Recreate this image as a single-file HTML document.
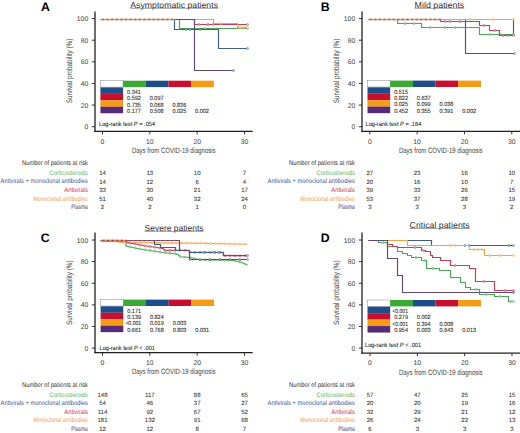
<!DOCTYPE html>
<html><head><meta charset="utf-8"><style>
html,body{margin:0;padding:0;background:#fff;}
svg{display:block;font-family:"Liberation Sans", sans-serif;text-rendering:geometricPrecision;}
</style></head><body>
<svg width="520" height="433" viewBox="0 0 520 433">
<rect width="520" height="433" fill="#fff"/>
<text x="41.10" y="11.10" font-size="12.3" font-weight="bold" fill="#000">A</text>
<text x="130.30" y="7.60" font-size="8.6" textLength="87.7" lengthAdjust="spacingAndGlyphs" fill="#333">Asymptomatic patients</text>
<line x1="130.30" y1="8.30" x2="218.00" y2="8.30" stroke="#444" stroke-width="0.5"/>
<text transform="translate(71.70,71.00) rotate(-90)" x="0" y="0" font-size="8.0" text-anchor="middle" textLength="64.5" lengthAdjust="spacingAndGlyphs" fill="#444">Survival probability (%)</text>
<line x1="91.80" y1="18.60" x2="95.00" y2="18.60" stroke="#231f20" stroke-width="0.9"/>
<text x="88.20" y="21.10" font-size="6.8" text-anchor="end" fill="#444">100</text>
<line x1="91.80" y1="40.22" x2="95.00" y2="40.22" stroke="#231f20" stroke-width="0.9"/>
<text x="88.20" y="42.72" font-size="6.8" text-anchor="end" fill="#444">80</text>
<line x1="91.80" y1="61.84" x2="95.00" y2="61.84" stroke="#231f20" stroke-width="0.9"/>
<text x="88.20" y="64.34" font-size="6.8" text-anchor="end" fill="#444">60</text>
<line x1="91.80" y1="83.46" x2="95.00" y2="83.46" stroke="#231f20" stroke-width="0.9"/>
<text x="88.20" y="85.96" font-size="6.8" text-anchor="end" fill="#444">40</text>
<line x1="91.80" y1="105.08" x2="95.00" y2="105.08" stroke="#231f20" stroke-width="0.9"/>
<text x="88.20" y="107.58" font-size="6.8" text-anchor="end" fill="#444">20</text>
<line x1="91.80" y1="126.70" x2="95.00" y2="126.70" stroke="#231f20" stroke-width="0.9"/>
<text x="88.20" y="129.20" font-size="6.8" text-anchor="end" fill="#444">0</text>
<line x1="102.50" y1="131.30" x2="102.50" y2="134.40" stroke="#231f20" stroke-width="0.9"/>
<text x="102.50" y="143.60" font-size="6.8" text-anchor="middle" fill="#444">0</text>
<line x1="149.83" y1="131.30" x2="149.83" y2="134.40" stroke="#231f20" stroke-width="0.9"/>
<text x="149.83" y="143.60" font-size="6.8" text-anchor="middle" fill="#444">10</text>
<line x1="197.16" y1="131.30" x2="197.16" y2="134.40" stroke="#231f20" stroke-width="0.9"/>
<text x="197.16" y="143.60" font-size="6.8" text-anchor="middle" fill="#444">20</text>
<line x1="244.49" y1="131.30" x2="244.49" y2="134.40" stroke="#231f20" stroke-width="0.9"/>
<text x="244.49" y="143.60" font-size="6.8" text-anchor="middle" fill="#444">30</text>
<text x="173.75" y="152.70" font-size="7.8" text-anchor="middle" textLength="83.7" lengthAdjust="spacingAndGlyphs" fill="#444">Days from COVID-19 diagnosis</text>
<path d="M100.50,19.50 L179.50,19.50 L179.50,28.50 L247.50,28.50" fill="none" stroke="#4ba656" stroke-width="1.15" stroke-linejoin="miter"/>
<circle cx="205.00" cy="28.50" r="1.05" fill="#fff" fill-opacity="0.55" stroke="#4ba656" stroke-width="0.55"/>
<circle cx="216.00" cy="28.50" r="1.05" fill="#fff" fill-opacity="0.55" stroke="#4ba656" stroke-width="0.55"/>
<circle cx="247.50" cy="28.50" r="1.05" fill="#fff" fill-opacity="0.55" stroke="#4ba656" stroke-width="0.55"/>
<path d="M100.50,19.50 L174.50,19.50 L174.50,29.50 L218.50,29.50 L218.50,48.50 L247.50,48.50" fill="none" stroke="#3f5f88" stroke-width="1.15" stroke-linejoin="miter"/>
<circle cx="186.00" cy="29.50" r="1.05" fill="#fff" fill-opacity="0.55" stroke="#3f5f88" stroke-width="0.55"/>
<circle cx="190.00" cy="29.50" r="1.05" fill="#fff" fill-opacity="0.55" stroke="#3f5f88" stroke-width="0.55"/>
<circle cx="200.00" cy="29.50" r="1.05" fill="#fff" fill-opacity="0.55" stroke="#3f5f88" stroke-width="0.55"/>
<circle cx="247.50" cy="48.50" r="1.05" fill="#fff" fill-opacity="0.55" stroke="#3f5f88" stroke-width="0.55"/>
<path d="M100.50,19.50 L194.50,19.50 L194.50,24.50 L247.50,24.50" fill="none" stroke="#c23d58" stroke-width="1.15" stroke-linejoin="miter"/>
<circle cx="199.00" cy="24.50" r="1.05" fill="#fff" fill-opacity="0.55" stroke="#c23d58" stroke-width="0.55"/>
<circle cx="208.00" cy="24.50" r="1.05" fill="#fff" fill-opacity="0.55" stroke="#c23d58" stroke-width="0.55"/>
<circle cx="213.00" cy="24.50" r="1.05" fill="#fff" fill-opacity="0.55" stroke="#c23d58" stroke-width="0.55"/>
<circle cx="247.50" cy="24.50" r="1.05" fill="#fff" fill-opacity="0.55" stroke="#c23d58" stroke-width="0.55"/>
<path d="M100.50,19.50 L213.50,19.50 L213.50,23.50 L237.50,23.50 L237.50,27.50 L247.50,27.50" fill="none" stroke="#f2a444" stroke-width="1.15" stroke-linejoin="miter"/>
<circle cx="221.00" cy="23.50" r="1.05" fill="#fff" fill-opacity="0.55" stroke="#f2a444" stroke-width="0.55"/>
<circle cx="239.00" cy="27.50" r="1.05" fill="#fff" fill-opacity="0.55" stroke="#f2a444" stroke-width="0.55"/>
<circle cx="241.00" cy="27.50" r="1.05" fill="#fff" fill-opacity="0.55" stroke="#f2a444" stroke-width="0.55"/>
<circle cx="244.00" cy="27.50" r="1.05" fill="#fff" fill-opacity="0.55" stroke="#f2a444" stroke-width="0.55"/>
<circle cx="247.50" cy="27.50" r="1.05" fill="#fff" fill-opacity="0.55" stroke="#f2a444" stroke-width="0.55"/>
<path d="M100.50,19.50 L194.50,19.50 L194.50,70.50 L233.50,70.50" fill="none" stroke="#5e4a78" stroke-width="1.15" stroke-linejoin="miter"/>
<circle cx="233.50" cy="70.50" r="1.05" fill="#fff" fill-opacity="0.55" stroke="#5e4a78" stroke-width="0.55"/>
<path d="M100.40,19.50H174.60" stroke="#e0a070" stroke-width="1.5"/>
<path d="M101.90,19.50H174.60" stroke="#9a6470" stroke-width="1.4" stroke-dasharray="2.2,2.4"/>
<rect x="100.40" y="80.70" width="22.68" height="6.40" fill="#fff" stroke="#888" stroke-width="0.5"/>
<rect x="123.08" y="80.70" width="22.73" height="6.40" fill="#3aaa35"/>
<rect x="145.76" y="80.70" width="22.73" height="6.40" fill="#1d4e89"/>
<rect x="168.44" y="80.70" width="22.73" height="6.40" fill="#c8102e"/>
<rect x="191.12" y="80.70" width="22.73" height="6.40" fill="#f59b15"/>
<rect x="100.40" y="87.40" width="22.68" height="6.50" fill="#1d4e89"/>
<rect x="100.40" y="93.85" width="22.68" height="6.50" fill="#c8102e"/>
<rect x="100.40" y="100.30" width="22.68" height="6.50" fill="#f59b15"/>
<rect x="100.40" y="106.75" width="22.68" height="6.50" fill="#552a78"/>
<text x="127.08" y="93.60" font-size="6.0" textLength="13.8" lengthAdjust="spacingAndGlyphs" fill="#2a2a2a" stroke="#333" stroke-width="0.1">0.341</text>
<text x="127.08" y="100.05" font-size="6.0" textLength="13.8" lengthAdjust="spacingAndGlyphs" fill="#2a2a2a" stroke="#333" stroke-width="0.1">0.592</text>
<text x="149.76" y="100.05" font-size="6.0" textLength="13.8" lengthAdjust="spacingAndGlyphs" fill="#2a2a2a" stroke="#333" stroke-width="0.1">0.097</text>
<text x="127.08" y="106.50" font-size="6.0" textLength="13.8" lengthAdjust="spacingAndGlyphs" fill="#2a2a2a" stroke="#333" stroke-width="0.1">0.735</text>
<text x="149.76" y="106.50" font-size="6.0" textLength="13.8" lengthAdjust="spacingAndGlyphs" fill="#2a2a2a" stroke="#333" stroke-width="0.1">0.068</text>
<text x="172.44" y="106.50" font-size="6.0" textLength="13.8" lengthAdjust="spacingAndGlyphs" fill="#2a2a2a" stroke="#333" stroke-width="0.1">0.836</text>
<text x="127.08" y="112.95" font-size="6.0" textLength="13.8" lengthAdjust="spacingAndGlyphs" fill="#2a2a2a" stroke="#333" stroke-width="0.1">0.177</text>
<text x="149.76" y="112.95" font-size="6.0" textLength="13.8" lengthAdjust="spacingAndGlyphs" fill="#2a2a2a" stroke="#333" stroke-width="0.1">0.508</text>
<text x="172.44" y="112.95" font-size="6.0" textLength="13.8" lengthAdjust="spacingAndGlyphs" fill="#2a2a2a" stroke="#333" stroke-width="0.1">0.025</text>
<text x="195.12" y="112.95" font-size="6.0" textLength="13.8" lengthAdjust="spacingAndGlyphs" fill="#2a2a2a" stroke="#333" stroke-width="0.1">0.002</text>
<text x="99.00" y="125.60" font-size="6.2" fill="#2a2a2a" stroke="#333" stroke-width="0.08" textLength="56.2" lengthAdjust="spacingAndGlyphs">Log-rank test <tspan font-style="italic">P</tspan> = .054</text>
<line x1="95.00" y1="11.40" x2="95.00" y2="131.90" stroke="#231f20" stroke-width="1.3"/>
<line x1="94.40" y1="131.30" x2="252.70" y2="131.30" stroke="#231f20" stroke-width="1.3"/>
<text x="22.00" y="164.80" font-size="6.8" textLength="66" lengthAdjust="spacingAndGlyphs" fill="#333">Number of patients at risk</text>
<text x="87.80" y="175.00" font-size="6.6" text-anchor="end" textLength="38.3" lengthAdjust="spacingAndGlyphs" fill="#5cb85c">Corticosteroids</text>
<text x="102.50" y="175.10" font-size="6.0" text-anchor="middle" fill="#333" stroke="#444" stroke-width="0.08">14</text>
<text x="149.83" y="175.10" font-size="6.0" text-anchor="middle" fill="#333" stroke="#444" stroke-width="0.08">13</text>
<text x="197.16" y="175.10" font-size="6.0" text-anchor="middle" fill="#333" stroke="#444" stroke-width="0.08">10</text>
<text x="244.49" y="175.10" font-size="6.0" text-anchor="middle" fill="#333" stroke="#444" stroke-width="0.08">7</text>
<text x="87.80" y="183.40" font-size="6.6" text-anchor="end" textLength="87.2" lengthAdjust="spacingAndGlyphs" fill="#3c5a94">Antivirals + monoclonal antibodies</text>
<text x="102.50" y="183.50" font-size="6.0" text-anchor="middle" fill="#333" stroke="#444" stroke-width="0.08">14</text>
<text x="149.83" y="183.50" font-size="6.0" text-anchor="middle" fill="#333" stroke="#444" stroke-width="0.08">12</text>
<text x="197.16" y="183.50" font-size="6.0" text-anchor="middle" fill="#333" stroke="#444" stroke-width="0.08">6</text>
<text x="244.49" y="183.50" font-size="6.0" text-anchor="middle" fill="#333" stroke="#444" stroke-width="0.08">4</text>
<text x="87.80" y="191.90" font-size="6.6" text-anchor="end" textLength="23.5" lengthAdjust="spacingAndGlyphs" fill="#c43050">Antivirals</text>
<text x="102.50" y="192.00" font-size="6.0" text-anchor="middle" fill="#333" stroke="#444" stroke-width="0.08">33</text>
<text x="149.83" y="192.00" font-size="6.0" text-anchor="middle" fill="#333" stroke="#444" stroke-width="0.08">30</text>
<text x="197.16" y="192.00" font-size="6.0" text-anchor="middle" fill="#333" stroke="#444" stroke-width="0.08">21</text>
<text x="244.49" y="192.00" font-size="6.0" text-anchor="middle" fill="#333" stroke="#444" stroke-width="0.08">17</text>
<text x="87.80" y="200.60" font-size="6.6" text-anchor="end" textLength="54.5" lengthAdjust="spacingAndGlyphs" fill="#f2a24a">Monoclonal antibodies</text>
<text x="102.50" y="200.70" font-size="6.0" text-anchor="middle" fill="#333" stroke="#444" stroke-width="0.08">51</text>
<text x="149.83" y="200.70" font-size="6.0" text-anchor="middle" fill="#333" stroke="#444" stroke-width="0.08">40</text>
<text x="197.16" y="200.70" font-size="6.0" text-anchor="middle" fill="#333" stroke="#444" stroke-width="0.08">32</text>
<text x="244.49" y="200.70" font-size="6.0" text-anchor="middle" fill="#333" stroke="#444" stroke-width="0.08">24</text>
<text x="87.80" y="209.20" font-size="6.6" text-anchor="end" textLength="16.5" lengthAdjust="spacingAndGlyphs" fill="#4e3470">Plasma</text>
<text x="102.50" y="209.30" font-size="6.0" text-anchor="middle" fill="#333" stroke="#444" stroke-width="0.08">2</text>
<text x="149.83" y="209.30" font-size="6.0" text-anchor="middle" fill="#333" stroke="#444" stroke-width="0.08">2</text>
<text x="197.16" y="209.30" font-size="6.0" text-anchor="middle" fill="#333" stroke="#444" stroke-width="0.08">1</text>
<text x="244.49" y="209.30" font-size="6.0" text-anchor="middle" fill="#333" stroke="#444" stroke-width="0.08">0</text>
<text x="320.70" y="11.00" font-size="12.3" font-weight="bold" fill="#000">B</text>
<text x="414.60" y="7.60" font-size="8.6" textLength="49.7" lengthAdjust="spacingAndGlyphs" fill="#333">Mild patients</text>
<line x1="414.60" y1="8.30" x2="464.30" y2="8.30" stroke="#444" stroke-width="0.5"/>
<text transform="translate(338.70,71.00) rotate(-90)" x="0" y="0" font-size="8.0" text-anchor="middle" textLength="64.5" lengthAdjust="spacingAndGlyphs" fill="#444">Survival probability (%)</text>
<line x1="358.80" y1="18.60" x2="362.00" y2="18.60" stroke="#231f20" stroke-width="0.9"/>
<text x="355.20" y="21.10" font-size="6.8" text-anchor="end" fill="#444">100</text>
<line x1="358.80" y1="40.22" x2="362.00" y2="40.22" stroke="#231f20" stroke-width="0.9"/>
<text x="355.20" y="42.72" font-size="6.8" text-anchor="end" fill="#444">80</text>
<line x1="358.80" y1="61.84" x2="362.00" y2="61.84" stroke="#231f20" stroke-width="0.9"/>
<text x="355.20" y="64.34" font-size="6.8" text-anchor="end" fill="#444">60</text>
<line x1="358.80" y1="83.46" x2="362.00" y2="83.46" stroke="#231f20" stroke-width="0.9"/>
<text x="355.20" y="85.96" font-size="6.8" text-anchor="end" fill="#444">40</text>
<line x1="358.80" y1="105.08" x2="362.00" y2="105.08" stroke="#231f20" stroke-width="0.9"/>
<text x="355.20" y="107.58" font-size="6.8" text-anchor="end" fill="#444">20</text>
<line x1="358.80" y1="126.70" x2="362.00" y2="126.70" stroke="#231f20" stroke-width="0.9"/>
<text x="355.20" y="129.20" font-size="6.8" text-anchor="end" fill="#444">0</text>
<line x1="369.80" y1="131.30" x2="369.80" y2="134.40" stroke="#231f20" stroke-width="0.9"/>
<text x="369.80" y="143.60" font-size="6.8" text-anchor="middle" fill="#444">0</text>
<line x1="417.13" y1="131.30" x2="417.13" y2="134.40" stroke="#231f20" stroke-width="0.9"/>
<text x="417.13" y="143.60" font-size="6.8" text-anchor="middle" fill="#444">10</text>
<line x1="464.46" y1="131.30" x2="464.46" y2="134.40" stroke="#231f20" stroke-width="0.9"/>
<text x="464.46" y="143.60" font-size="6.8" text-anchor="middle" fill="#444">20</text>
<line x1="511.79" y1="131.30" x2="511.79" y2="134.40" stroke="#231f20" stroke-width="0.9"/>
<text x="511.79" y="143.60" font-size="6.8" text-anchor="middle" fill="#444">30</text>
<text x="440.75" y="152.70" font-size="7.8" text-anchor="middle" textLength="83.7" lengthAdjust="spacingAndGlyphs" fill="#444">Days from COVID-19 diagnosis</text>
<path d="M368.50,19.50 L465.50,19.50 L465.50,53.50 L514.50,53.50" fill="none" stroke="#5e4a78" stroke-width="1.15" stroke-linejoin="miter"/>
<circle cx="514.50" cy="53.50" r="1.05" fill="#fff" fill-opacity="0.55" stroke="#5e4a78" stroke-width="0.55"/>
<path d="M368.50,19.50 L513.50,19.50 L513.50,34.50" fill="none" stroke="#3f5f88" stroke-width="1.15" stroke-linejoin="miter"/>
<path d="M368.50,19.50 L397.50,19.50 L397.50,23.50 L421.50,23.50 L421.50,27.50 L479.50,27.50 L479.50,34.50 L513.50,34.50" fill="none" stroke="#4ba656" stroke-width="1.15" stroke-linejoin="miter"/>
<circle cx="405.00" cy="23.50" r="1.05" fill="#fff" fill-opacity="0.55" stroke="#4ba656" stroke-width="0.55"/>
<circle cx="414.00" cy="23.50" r="1.05" fill="#fff" fill-opacity="0.55" stroke="#4ba656" stroke-width="0.55"/>
<circle cx="430.00" cy="27.50" r="1.05" fill="#fff" fill-opacity="0.55" stroke="#4ba656" stroke-width="0.55"/>
<circle cx="445.00" cy="27.50" r="1.05" fill="#fff" fill-opacity="0.55" stroke="#4ba656" stroke-width="0.55"/>
<circle cx="455.00" cy="27.50" r="1.05" fill="#fff" fill-opacity="0.55" stroke="#4ba656" stroke-width="0.55"/>
<circle cx="490.00" cy="34.50" r="1.05" fill="#fff" fill-opacity="0.55" stroke="#4ba656" stroke-width="0.55"/>
<circle cx="500.00" cy="34.50" r="1.05" fill="#fff" fill-opacity="0.55" stroke="#4ba656" stroke-width="0.55"/>
<circle cx="513.50" cy="34.50" r="1.05" fill="#fff" fill-opacity="0.55" stroke="#4ba656" stroke-width="0.55"/>
<path d="M368.50,19.50 L440.50,19.50 L440.50,21.50 L479.50,21.50 L479.50,25.50 L489.50,25.50 L489.50,30.50 L499.50,30.50 L499.50,35.50 L513.50,35.50" fill="none" stroke="#c23d58" stroke-width="1.15" stroke-linejoin="miter"/>
<circle cx="445.00" cy="21.50" r="1.05" fill="#fff" fill-opacity="0.55" stroke="#c23d58" stroke-width="0.55"/>
<circle cx="450.00" cy="21.50" r="1.05" fill="#fff" fill-opacity="0.55" stroke="#c23d58" stroke-width="0.55"/>
<circle cx="460.00" cy="21.50" r="1.05" fill="#fff" fill-opacity="0.55" stroke="#c23d58" stroke-width="0.55"/>
<circle cx="484.00" cy="25.50" r="1.05" fill="#fff" fill-opacity="0.55" stroke="#c23d58" stroke-width="0.55"/>
<circle cx="495.00" cy="30.50" r="1.05" fill="#fff" fill-opacity="0.55" stroke="#c23d58" stroke-width="0.55"/>
<circle cx="503.00" cy="35.50" r="1.05" fill="#fff" fill-opacity="0.55" stroke="#c23d58" stroke-width="0.55"/>
<circle cx="508.00" cy="35.50" r="1.05" fill="#fff" fill-opacity="0.55" stroke="#c23d58" stroke-width="0.55"/>
<circle cx="513.50" cy="35.50" r="1.05" fill="#fff" fill-opacity="0.55" stroke="#c23d58" stroke-width="0.55"/>
<path d="M368.50,19.50 L513.50,19.50" fill="none" stroke="#f2a444" stroke-width="1.15" stroke-linejoin="miter"/>
<circle cx="470.00" cy="19.50" r="1.05" fill="#fff" fill-opacity="0.55" stroke="#f2a444" stroke-width="0.55"/>
<circle cx="493.00" cy="19.50" r="1.05" fill="#fff" fill-opacity="0.55" stroke="#f2a444" stroke-width="0.55"/>
<circle cx="513.50" cy="19.50" r="1.05" fill="#fff" fill-opacity="0.55" stroke="#f2a444" stroke-width="0.55"/>
<path d="M368.10,19.50H440.80" stroke="#e0a070" stroke-width="1.5"/>
<path d="M369.60,19.50H440.80" stroke="#9a6470" stroke-width="1.4" stroke-dasharray="2.2,2.4"/>
<rect x="367.50" y="80.60" width="22.68" height="6.40" fill="#fff" stroke="#888" stroke-width="0.5"/>
<rect x="390.18" y="80.60" width="22.73" height="6.40" fill="#3aaa35"/>
<rect x="412.86" y="80.60" width="22.73" height="6.40" fill="#1d4e89"/>
<rect x="435.54" y="80.60" width="22.73" height="6.40" fill="#c8102e"/>
<rect x="458.22" y="80.60" width="22.73" height="6.40" fill="#f59b15"/>
<rect x="367.50" y="87.30" width="22.68" height="6.50" fill="#1d4e89"/>
<rect x="367.50" y="93.75" width="22.68" height="6.50" fill="#c8102e"/>
<rect x="367.50" y="100.20" width="22.68" height="6.50" fill="#f59b15"/>
<rect x="367.50" y="106.65" width="22.68" height="6.50" fill="#552a78"/>
<text x="394.18" y="93.50" font-size="6.0" textLength="13.8" lengthAdjust="spacingAndGlyphs" fill="#2a2a2a" stroke="#333" stroke-width="0.1">0.515</text>
<text x="394.18" y="99.95" font-size="6.0" textLength="13.8" lengthAdjust="spacingAndGlyphs" fill="#2a2a2a" stroke="#333" stroke-width="0.1">0.822</text>
<text x="416.86" y="99.95" font-size="6.0" textLength="13.8" lengthAdjust="spacingAndGlyphs" fill="#2a2a2a" stroke="#333" stroke-width="0.1">0.637</text>
<text x="394.18" y="106.40" font-size="6.0" textLength="13.8" lengthAdjust="spacingAndGlyphs" fill="#2a2a2a" stroke="#333" stroke-width="0.1">0.025</text>
<text x="416.86" y="106.40" font-size="6.0" textLength="13.8" lengthAdjust="spacingAndGlyphs" fill="#2a2a2a" stroke="#333" stroke-width="0.1">0.099</text>
<text x="439.54" y="106.40" font-size="6.0" textLength="13.8" lengthAdjust="spacingAndGlyphs" fill="#2a2a2a" stroke="#333" stroke-width="0.1">0.038</text>
<text x="394.18" y="112.85" font-size="6.0" textLength="13.8" lengthAdjust="spacingAndGlyphs" fill="#2a2a2a" stroke="#333" stroke-width="0.1">0.452</text>
<text x="416.86" y="112.85" font-size="6.0" textLength="13.8" lengthAdjust="spacingAndGlyphs" fill="#2a2a2a" stroke="#333" stroke-width="0.1">0.355</text>
<text x="439.54" y="112.85" font-size="6.0" textLength="13.8" lengthAdjust="spacingAndGlyphs" fill="#2a2a2a" stroke="#333" stroke-width="0.1">0.391</text>
<text x="462.22" y="112.85" font-size="6.0" textLength="13.8" lengthAdjust="spacingAndGlyphs" fill="#2a2a2a" stroke="#333" stroke-width="0.1">0.002</text>
<text x="365.50" y="125.50" font-size="6.2" fill="#2a2a2a" stroke="#333" stroke-width="0.08" textLength="55.8" lengthAdjust="spacingAndGlyphs">Log-rank test <tspan font-style="italic">P</tspan> = .164</text>
<line x1="362.00" y1="11.40" x2="362.00" y2="131.90" stroke="#231f20" stroke-width="1.3"/>
<line x1="361.40" y1="131.30" x2="520.00" y2="131.30" stroke="#231f20" stroke-width="1.3"/>
<text x="289.00" y="164.80" font-size="6.8" textLength="66" lengthAdjust="spacingAndGlyphs" fill="#333">Number of patients at risk</text>
<text x="354.80" y="175.00" font-size="6.6" text-anchor="end" textLength="38.3" lengthAdjust="spacingAndGlyphs" fill="#5cb85c">Corticosteroids</text>
<text x="369.80" y="175.10" font-size="6.0" text-anchor="middle" fill="#333" stroke="#444" stroke-width="0.08">27</text>
<text x="417.13" y="175.10" font-size="6.0" text-anchor="middle" fill="#333" stroke="#444" stroke-width="0.08">23</text>
<text x="464.46" y="175.10" font-size="6.0" text-anchor="middle" fill="#333" stroke="#444" stroke-width="0.08">16</text>
<text x="511.79" y="175.10" font-size="6.0" text-anchor="middle" fill="#333" stroke="#444" stroke-width="0.08">10</text>
<text x="354.80" y="183.40" font-size="6.6" text-anchor="end" textLength="87.2" lengthAdjust="spacingAndGlyphs" fill="#3c5a94">Antivirals + monoclonal antibodies</text>
<text x="369.80" y="183.50" font-size="6.0" text-anchor="middle" fill="#333" stroke="#444" stroke-width="0.08">20</text>
<text x="417.13" y="183.50" font-size="6.0" text-anchor="middle" fill="#333" stroke="#444" stroke-width="0.08">16</text>
<text x="464.46" y="183.50" font-size="6.0" text-anchor="middle" fill="#333" stroke="#444" stroke-width="0.08">10</text>
<text x="511.79" y="183.50" font-size="6.0" text-anchor="middle" fill="#333" stroke="#444" stroke-width="0.08">7</text>
<text x="354.80" y="191.90" font-size="6.6" text-anchor="end" textLength="23.5" lengthAdjust="spacingAndGlyphs" fill="#c43050">Antivirals</text>
<text x="369.80" y="192.00" font-size="6.0" text-anchor="middle" fill="#333" stroke="#444" stroke-width="0.08">39</text>
<text x="417.13" y="192.00" font-size="6.0" text-anchor="middle" fill="#333" stroke="#444" stroke-width="0.08">33</text>
<text x="464.46" y="192.00" font-size="6.0" text-anchor="middle" fill="#333" stroke="#444" stroke-width="0.08">26</text>
<text x="511.79" y="192.00" font-size="6.0" text-anchor="middle" fill="#333" stroke="#444" stroke-width="0.08">15</text>
<text x="354.80" y="200.60" font-size="6.6" text-anchor="end" textLength="54.5" lengthAdjust="spacingAndGlyphs" fill="#f2a24a">Monoclonal antibodies</text>
<text x="369.80" y="200.70" font-size="6.0" text-anchor="middle" fill="#333" stroke="#444" stroke-width="0.08">53</text>
<text x="417.13" y="200.70" font-size="6.0" text-anchor="middle" fill="#333" stroke="#444" stroke-width="0.08">37</text>
<text x="464.46" y="200.70" font-size="6.0" text-anchor="middle" fill="#333" stroke="#444" stroke-width="0.08">28</text>
<text x="511.79" y="200.70" font-size="6.0" text-anchor="middle" fill="#333" stroke="#444" stroke-width="0.08">19</text>
<text x="354.80" y="209.20" font-size="6.6" text-anchor="end" textLength="16.5" lengthAdjust="spacingAndGlyphs" fill="#4e3470">Plasma</text>
<text x="369.80" y="209.30" font-size="6.0" text-anchor="middle" fill="#333" stroke="#444" stroke-width="0.08">3</text>
<text x="417.13" y="209.30" font-size="6.0" text-anchor="middle" fill="#333" stroke="#444" stroke-width="0.08">3</text>
<text x="464.46" y="209.30" font-size="6.0" text-anchor="middle" fill="#333" stroke="#444" stroke-width="0.08">3</text>
<text x="511.79" y="209.30" font-size="6.0" text-anchor="middle" fill="#333" stroke="#444" stroke-width="0.08">2</text>
<text x="40.80" y="241.50" font-size="12.3" font-weight="bold" fill="#000">C</text>
<text x="144.60" y="230.70" font-size="8.6" textLength="58.9" lengthAdjust="spacingAndGlyphs" fill="#333">Severe patients</text>
<line x1="144.60" y1="231.40" x2="203.50" y2="231.40" stroke="#444" stroke-width="0.5"/>
<text transform="translate(71.70,292.70) rotate(-90)" x="0" y="0" font-size="8.0" text-anchor="middle" textLength="64.5" lengthAdjust="spacingAndGlyphs" fill="#444">Survival probability (%)</text>
<line x1="91.80" y1="240.00" x2="95.00" y2="240.00" stroke="#231f20" stroke-width="0.9"/>
<text x="88.20" y="242.50" font-size="6.8" text-anchor="end" fill="#444">100</text>
<line x1="91.80" y1="261.62" x2="95.00" y2="261.62" stroke="#231f20" stroke-width="0.9"/>
<text x="88.20" y="264.12" font-size="6.8" text-anchor="end" fill="#444">80</text>
<line x1="91.80" y1="283.24" x2="95.00" y2="283.24" stroke="#231f20" stroke-width="0.9"/>
<text x="88.20" y="285.74" font-size="6.8" text-anchor="end" fill="#444">60</text>
<line x1="91.80" y1="304.86" x2="95.00" y2="304.86" stroke="#231f20" stroke-width="0.9"/>
<text x="88.20" y="307.36" font-size="6.8" text-anchor="end" fill="#444">40</text>
<line x1="91.80" y1="326.48" x2="95.00" y2="326.48" stroke="#231f20" stroke-width="0.9"/>
<text x="88.20" y="328.98" font-size="6.8" text-anchor="end" fill="#444">20</text>
<line x1="91.80" y1="348.10" x2="95.00" y2="348.10" stroke="#231f20" stroke-width="0.9"/>
<text x="88.20" y="350.60" font-size="6.8" text-anchor="end" fill="#444">0</text>
<line x1="102.50" y1="352.70" x2="102.50" y2="355.80" stroke="#231f20" stroke-width="0.9"/>
<text x="102.50" y="365.00" font-size="6.8" text-anchor="middle" fill="#444">0</text>
<line x1="149.83" y1="352.70" x2="149.83" y2="355.80" stroke="#231f20" stroke-width="0.9"/>
<text x="149.83" y="365.00" font-size="6.8" text-anchor="middle" fill="#444">10</text>
<line x1="197.16" y1="352.70" x2="197.16" y2="355.80" stroke="#231f20" stroke-width="0.9"/>
<text x="197.16" y="365.00" font-size="6.8" text-anchor="middle" fill="#444">20</text>
<line x1="244.49" y1="352.70" x2="244.49" y2="355.80" stroke="#231f20" stroke-width="0.9"/>
<text x="244.49" y="365.00" font-size="6.8" text-anchor="middle" fill="#444">30</text>
<text x="173.75" y="374.10" font-size="7.8" text-anchor="middle" textLength="83.7" lengthAdjust="spacingAndGlyphs" fill="#444">Days from COVID-19 diagnosis</text>
<path d="M100.90,240.90 L125.90,240.90 L125.90,246.00 L133.00,247.50 L140.00,249.00 L150.00,250.50 L163.00,252.50 L175.00,253.70 L178.00,254.60 L180.30,256.80 L190.00,257.50 L200.00,259.80 L231.70,260.10 L238.00,261.50 L243.00,263.00 L247.60,265.20" fill="none" stroke="#4ba656" stroke-width="1.15" stroke-linejoin="miter"/>
<circle cx="130.00" cy="246.87" r="1.05" fill="#fff" fill-opacity="0.55" stroke="#4ba656" stroke-width="0.55"/>
<circle cx="135.00" cy="247.93" r="1.05" fill="#fff" fill-opacity="0.55" stroke="#4ba656" stroke-width="0.55"/>
<circle cx="140.00" cy="249.00" r="1.05" fill="#fff" fill-opacity="0.55" stroke="#4ba656" stroke-width="0.55"/>
<circle cx="145.00" cy="249.75" r="1.05" fill="#fff" fill-opacity="0.55" stroke="#4ba656" stroke-width="0.55"/>
<circle cx="150.00" cy="250.50" r="1.05" fill="#fff" fill-opacity="0.55" stroke="#4ba656" stroke-width="0.55"/>
<circle cx="155.00" cy="251.27" r="1.05" fill="#fff" fill-opacity="0.55" stroke="#4ba656" stroke-width="0.55"/>
<circle cx="160.00" cy="252.04" r="1.05" fill="#fff" fill-opacity="0.55" stroke="#4ba656" stroke-width="0.55"/>
<circle cx="165.00" cy="252.70" r="1.05" fill="#fff" fill-opacity="0.55" stroke="#4ba656" stroke-width="0.55"/>
<circle cx="170.00" cy="253.20" r="1.05" fill="#fff" fill-opacity="0.55" stroke="#4ba656" stroke-width="0.55"/>
<circle cx="175.00" cy="253.70" r="1.05" fill="#fff" fill-opacity="0.55" stroke="#4ba656" stroke-width="0.55"/>
<circle cx="180.00" cy="256.51" r="1.05" fill="#fff" fill-opacity="0.55" stroke="#4ba656" stroke-width="0.55"/>
<circle cx="185.00" cy="257.14" r="1.05" fill="#fff" fill-opacity="0.55" stroke="#4ba656" stroke-width="0.55"/>
<circle cx="190.00" cy="257.50" r="1.05" fill="#fff" fill-opacity="0.55" stroke="#4ba656" stroke-width="0.55"/>
<circle cx="195.00" cy="258.65" r="1.05" fill="#fff" fill-opacity="0.55" stroke="#4ba656" stroke-width="0.55"/>
<circle cx="200.00" cy="259.80" r="1.05" fill="#fff" fill-opacity="0.55" stroke="#4ba656" stroke-width="0.55"/>
<circle cx="205.00" cy="259.85" r="1.05" fill="#fff" fill-opacity="0.55" stroke="#4ba656" stroke-width="0.55"/>
<circle cx="210.00" cy="259.89" r="1.05" fill="#fff" fill-opacity="0.55" stroke="#4ba656" stroke-width="0.55"/>
<circle cx="215.00" cy="259.94" r="1.05" fill="#fff" fill-opacity="0.55" stroke="#4ba656" stroke-width="0.55"/>
<circle cx="220.00" cy="259.99" r="1.05" fill="#fff" fill-opacity="0.55" stroke="#4ba656" stroke-width="0.55"/>
<circle cx="225.00" cy="260.04" r="1.05" fill="#fff" fill-opacity="0.55" stroke="#4ba656" stroke-width="0.55"/>
<circle cx="230.00" cy="260.08" r="1.05" fill="#fff" fill-opacity="0.55" stroke="#4ba656" stroke-width="0.55"/>
<circle cx="235.00" cy="260.83" r="1.05" fill="#fff" fill-opacity="0.55" stroke="#4ba656" stroke-width="0.55"/>
<circle cx="240.00" cy="262.10" r="1.05" fill="#fff" fill-opacity="0.55" stroke="#4ba656" stroke-width="0.55"/>
<circle cx="245.00" cy="263.96" r="1.05" fill="#fff" fill-opacity="0.55" stroke="#4ba656" stroke-width="0.55"/>
<path d="M100.90,240.90 L118.00,240.90 L118.00,242.20 L140.00,242.40 L160.00,242.90 L200.00,243.20 L247.60,244.30" fill="none" stroke="#f2a444" stroke-width="1.15" stroke-linejoin="miter"/>
<circle cx="105.00" cy="240.90" r="1.05" fill="#fff" fill-opacity="0.55" stroke="#f2a444" stroke-width="0.55"/>
<circle cx="109.80" cy="240.90" r="1.05" fill="#fff" fill-opacity="0.55" stroke="#f2a444" stroke-width="0.55"/>
<circle cx="114.60" cy="240.90" r="1.05" fill="#fff" fill-opacity="0.55" stroke="#f2a444" stroke-width="0.55"/>
<circle cx="119.40" cy="242.21" r="1.05" fill="#fff" fill-opacity="0.55" stroke="#f2a444" stroke-width="0.55"/>
<circle cx="124.20" cy="242.26" r="1.05" fill="#fff" fill-opacity="0.55" stroke="#f2a444" stroke-width="0.55"/>
<circle cx="129.00" cy="242.30" r="1.05" fill="#fff" fill-opacity="0.55" stroke="#f2a444" stroke-width="0.55"/>
<circle cx="133.80" cy="242.34" r="1.05" fill="#fff" fill-opacity="0.55" stroke="#f2a444" stroke-width="0.55"/>
<circle cx="138.60" cy="242.39" r="1.05" fill="#fff" fill-opacity="0.55" stroke="#f2a444" stroke-width="0.55"/>
<circle cx="143.40" cy="242.49" r="1.05" fill="#fff" fill-opacity="0.55" stroke="#f2a444" stroke-width="0.55"/>
<circle cx="148.20" cy="242.61" r="1.05" fill="#fff" fill-opacity="0.55" stroke="#f2a444" stroke-width="0.55"/>
<circle cx="153.00" cy="242.72" r="1.05" fill="#fff" fill-opacity="0.55" stroke="#f2a444" stroke-width="0.55"/>
<circle cx="157.80" cy="242.84" r="1.05" fill="#fff" fill-opacity="0.55" stroke="#f2a444" stroke-width="0.55"/>
<circle cx="162.60" cy="242.92" r="1.05" fill="#fff" fill-opacity="0.55" stroke="#f2a444" stroke-width="0.55"/>
<circle cx="167.40" cy="242.96" r="1.05" fill="#fff" fill-opacity="0.55" stroke="#f2a444" stroke-width="0.55"/>
<circle cx="172.20" cy="242.99" r="1.05" fill="#fff" fill-opacity="0.55" stroke="#f2a444" stroke-width="0.55"/>
<circle cx="177.00" cy="243.03" r="1.05" fill="#fff" fill-opacity="0.55" stroke="#f2a444" stroke-width="0.55"/>
<circle cx="181.80" cy="243.06" r="1.05" fill="#fff" fill-opacity="0.55" stroke="#f2a444" stroke-width="0.55"/>
<circle cx="186.60" cy="243.10" r="1.05" fill="#fff" fill-opacity="0.55" stroke="#f2a444" stroke-width="0.55"/>
<circle cx="191.40" cy="243.14" r="1.05" fill="#fff" fill-opacity="0.55" stroke="#f2a444" stroke-width="0.55"/>
<circle cx="196.20" cy="243.17" r="1.05" fill="#fff" fill-opacity="0.55" stroke="#f2a444" stroke-width="0.55"/>
<circle cx="201.00" cy="243.22" r="1.05" fill="#fff" fill-opacity="0.55" stroke="#f2a444" stroke-width="0.55"/>
<circle cx="205.80" cy="243.33" r="1.05" fill="#fff" fill-opacity="0.55" stroke="#f2a444" stroke-width="0.55"/>
<circle cx="210.60" cy="243.44" r="1.05" fill="#fff" fill-opacity="0.55" stroke="#f2a444" stroke-width="0.55"/>
<circle cx="215.40" cy="243.56" r="1.05" fill="#fff" fill-opacity="0.55" stroke="#f2a444" stroke-width="0.55"/>
<circle cx="220.20" cy="243.67" r="1.05" fill="#fff" fill-opacity="0.55" stroke="#f2a444" stroke-width="0.55"/>
<circle cx="225.00" cy="243.78" r="1.05" fill="#fff" fill-opacity="0.55" stroke="#f2a444" stroke-width="0.55"/>
<circle cx="229.80" cy="243.89" r="1.05" fill="#fff" fill-opacity="0.55" stroke="#f2a444" stroke-width="0.55"/>
<circle cx="234.60" cy="244.00" r="1.05" fill="#fff" fill-opacity="0.55" stroke="#f2a444" stroke-width="0.55"/>
<circle cx="239.40" cy="244.11" r="1.05" fill="#fff" fill-opacity="0.55" stroke="#f2a444" stroke-width="0.55"/>
<circle cx="244.20" cy="244.22" r="1.05" fill="#fff" fill-opacity="0.55" stroke="#f2a444" stroke-width="0.55"/>
<path d="M100.90,240.90 L126.60,240.90 L126.60,242.50 L135.00,244.00 L145.00,245.80 L155.00,247.30 L163.00,248.50 L165.00,250.30 L189.40,250.30 L189.40,252.40 L223.30,252.40 L223.30,255.70 L247.60,255.70" fill="none" stroke="#c23d58" stroke-width="1.15" stroke-linejoin="miter"/>
<circle cx="130.00" cy="243.11" r="1.05" fill="#fff" fill-opacity="0.55" stroke="#c23d58" stroke-width="0.55"/>
<circle cx="135.00" cy="244.00" r="1.05" fill="#fff" fill-opacity="0.55" stroke="#c23d58" stroke-width="0.55"/>
<circle cx="140.00" cy="244.90" r="1.05" fill="#fff" fill-opacity="0.55" stroke="#c23d58" stroke-width="0.55"/>
<circle cx="145.00" cy="245.80" r="1.05" fill="#fff" fill-opacity="0.55" stroke="#c23d58" stroke-width="0.55"/>
<circle cx="150.00" cy="246.55" r="1.05" fill="#fff" fill-opacity="0.55" stroke="#c23d58" stroke-width="0.55"/>
<circle cx="155.00" cy="247.30" r="1.05" fill="#fff" fill-opacity="0.55" stroke="#c23d58" stroke-width="0.55"/>
<circle cx="160.00" cy="248.05" r="1.05" fill="#fff" fill-opacity="0.55" stroke="#c23d58" stroke-width="0.55"/>
<circle cx="165.00" cy="250.30" r="1.05" fill="#fff" fill-opacity="0.55" stroke="#c23d58" stroke-width="0.55"/>
<circle cx="170.00" cy="250.30" r="1.05" fill="#fff" fill-opacity="0.55" stroke="#c23d58" stroke-width="0.55"/>
<circle cx="175.00" cy="250.30" r="1.05" fill="#fff" fill-opacity="0.55" stroke="#c23d58" stroke-width="0.55"/>
<circle cx="180.00" cy="250.30" r="1.05" fill="#fff" fill-opacity="0.55" stroke="#c23d58" stroke-width="0.55"/>
<circle cx="185.00" cy="250.30" r="1.05" fill="#fff" fill-opacity="0.55" stroke="#c23d58" stroke-width="0.55"/>
<circle cx="190.00" cy="252.40" r="1.05" fill="#fff" fill-opacity="0.55" stroke="#c23d58" stroke-width="0.55"/>
<circle cx="195.00" cy="252.40" r="1.05" fill="#fff" fill-opacity="0.55" stroke="#c23d58" stroke-width="0.55"/>
<circle cx="200.00" cy="252.40" r="1.05" fill="#fff" fill-opacity="0.55" stroke="#c23d58" stroke-width="0.55"/>
<circle cx="205.00" cy="252.40" r="1.05" fill="#fff" fill-opacity="0.55" stroke="#c23d58" stroke-width="0.55"/>
<circle cx="210.00" cy="252.40" r="1.05" fill="#fff" fill-opacity="0.55" stroke="#c23d58" stroke-width="0.55"/>
<circle cx="215.00" cy="252.40" r="1.05" fill="#fff" fill-opacity="0.55" stroke="#c23d58" stroke-width="0.55"/>
<circle cx="220.00" cy="252.40" r="1.05" fill="#fff" fill-opacity="0.55" stroke="#c23d58" stroke-width="0.55"/>
<circle cx="225.00" cy="255.70" r="1.05" fill="#fff" fill-opacity="0.55" stroke="#c23d58" stroke-width="0.55"/>
<circle cx="230.00" cy="255.70" r="1.05" fill="#fff" fill-opacity="0.55" stroke="#c23d58" stroke-width="0.55"/>
<circle cx="235.00" cy="255.70" r="1.05" fill="#fff" fill-opacity="0.55" stroke="#c23d58" stroke-width="0.55"/>
<circle cx="240.00" cy="255.70" r="1.05" fill="#fff" fill-opacity="0.55" stroke="#c23d58" stroke-width="0.55"/>
<circle cx="245.00" cy="255.70" r="1.05" fill="#fff" fill-opacity="0.55" stroke="#c23d58" stroke-width="0.55"/>
<path d="M100.50,240.50 L154.50,240.50 L154.50,244.50 L160.50,244.50 L160.50,247.50 L175.50,247.50 L175.50,250.50 L189.50,250.50 L189.50,252.50 L223.50,252.50 L223.50,255.50 L247.50,255.50" fill="none" stroke="#3f5f88" stroke-width="1.15" stroke-linejoin="miter"/>
<circle cx="203.50" cy="252.50" r="1.05" fill="#fff" fill-opacity="0.55" stroke="#3f5f88" stroke-width="0.55"/>
<circle cx="213.50" cy="252.50" r="1.05" fill="#fff" fill-opacity="0.55" stroke="#3f5f88" stroke-width="0.55"/>
<circle cx="218.50" cy="252.50" r="1.05" fill="#fff" fill-opacity="0.55" stroke="#3f5f88" stroke-width="0.55"/>
<circle cx="247.50" cy="255.50" r="1.05" fill="#fff" fill-opacity="0.55" stroke="#3f5f88" stroke-width="0.55"/>
<path d="M100.50,240.50 L179.50,240.50 L179.50,250.50 L189.50,250.50 L189.50,259.50 L247.50,259.50" fill="none" stroke="#5e4a78" stroke-width="1.15" stroke-linejoin="miter"/>
<circle cx="190.00" cy="259.50" r="1.05" fill="#fff" fill-opacity="0.55" stroke="#5e4a78" stroke-width="0.55"/>
<circle cx="200.00" cy="259.50" r="1.05" fill="#fff" fill-opacity="0.55" stroke="#5e4a78" stroke-width="0.55"/>
<circle cx="210.00" cy="259.50" r="1.05" fill="#fff" fill-opacity="0.55" stroke="#5e4a78" stroke-width="0.55"/>
<circle cx="220.00" cy="259.50" r="1.05" fill="#fff" fill-opacity="0.55" stroke="#5e4a78" stroke-width="0.55"/>
<circle cx="230.00" cy="259.50" r="1.05" fill="#fff" fill-opacity="0.55" stroke="#5e4a78" stroke-width="0.55"/>
<circle cx="240.00" cy="259.50" r="1.05" fill="#fff" fill-opacity="0.55" stroke="#5e4a78" stroke-width="0.55"/>
<circle cx="247.50" cy="259.50" r="1.05" fill="#fff" fill-opacity="0.55" stroke="#5e4a78" stroke-width="0.55"/>
<path d="M100.90,240.50H126.60" stroke="#e09060" stroke-width="1.5"/>
<path d="M102.40,240.50H126.60" stroke="#a04a50" stroke-width="1.4" stroke-dasharray="2.2,2.4"/>
<path d="M127.5,240.5H179" stroke="#b04a60" stroke-width="1.2" stroke-dasharray="2.2,2.4"/>
<rect x="100.60" y="299.60" width="22.68" height="6.40" fill="#fff" stroke="#888" stroke-width="0.5"/>
<rect x="123.28" y="299.60" width="22.73" height="6.40" fill="#3aaa35"/>
<rect x="145.96" y="299.60" width="22.73" height="6.40" fill="#1d4e89"/>
<rect x="168.64" y="299.60" width="22.73" height="6.40" fill="#c8102e"/>
<rect x="191.32" y="299.60" width="22.73" height="6.40" fill="#f59b15"/>
<rect x="100.60" y="306.30" width="22.68" height="6.50" fill="#1d4e89"/>
<rect x="100.60" y="312.75" width="22.68" height="6.50" fill="#c8102e"/>
<rect x="100.60" y="319.20" width="22.68" height="6.50" fill="#f59b15"/>
<rect x="100.60" y="325.65" width="22.68" height="6.50" fill="#552a78"/>
<text x="127.28" y="312.50" font-size="6.0" textLength="13.8" lengthAdjust="spacingAndGlyphs" fill="#2a2a2a" stroke="#333" stroke-width="0.1">0.171</text>
<text x="127.28" y="318.95" font-size="6.0" textLength="13.8" lengthAdjust="spacingAndGlyphs" fill="#2a2a2a" stroke="#333" stroke-width="0.1">0.139</text>
<text x="149.96" y="318.95" font-size="6.0" textLength="13.8" lengthAdjust="spacingAndGlyphs" fill="#2a2a2a" stroke="#333" stroke-width="0.1">0.824</text>
<text x="125.38" y="325.40" font-size="6.0" textLength="15.8" lengthAdjust="spacingAndGlyphs" fill="#2a2a2a" stroke="#333" stroke-width="0.1">&lt;0.001</text>
<text x="149.96" y="325.40" font-size="6.0" textLength="13.8" lengthAdjust="spacingAndGlyphs" fill="#2a2a2a" stroke="#333" stroke-width="0.1">0.019</text>
<text x="172.64" y="325.40" font-size="6.0" textLength="13.8" lengthAdjust="spacingAndGlyphs" fill="#2a2a2a" stroke="#333" stroke-width="0.1">0.003</text>
<text x="127.28" y="331.85" font-size="6.0" textLength="13.8" lengthAdjust="spacingAndGlyphs" fill="#2a2a2a" stroke="#333" stroke-width="0.1">0.661</text>
<text x="149.96" y="331.85" font-size="6.0" textLength="13.8" lengthAdjust="spacingAndGlyphs" fill="#2a2a2a" stroke="#333" stroke-width="0.1">0.768</text>
<text x="172.64" y="331.85" font-size="6.0" textLength="13.8" lengthAdjust="spacingAndGlyphs" fill="#2a2a2a" stroke="#333" stroke-width="0.1">0.803</text>
<text x="195.32" y="331.85" font-size="6.0" textLength="13.8" lengthAdjust="spacingAndGlyphs" fill="#2a2a2a" stroke="#333" stroke-width="0.1">0.031</text>
<text x="99.50" y="349.70" font-size="6.2" fill="#2a2a2a" stroke="#333" stroke-width="0.08" textLength="55.5" lengthAdjust="spacingAndGlyphs">Log-rank test <tspan font-style="italic">P</tspan> &lt; .001</text>
<line x1="95.00" y1="232.40" x2="95.00" y2="353.30" stroke="#231f20" stroke-width="1.3"/>
<line x1="94.40" y1="352.70" x2="252.70" y2="352.70" stroke="#231f20" stroke-width="1.3"/>
<text x="22.00" y="386.50" font-size="6.8" textLength="66" lengthAdjust="spacingAndGlyphs" fill="#333">Number of patients at risk</text>
<text x="87.80" y="396.70" font-size="6.6" text-anchor="end" textLength="38.3" lengthAdjust="spacingAndGlyphs" fill="#5cb85c">Corticosteroids</text>
<text x="102.50" y="396.80" font-size="6.0" text-anchor="middle" fill="#333" stroke="#444" stroke-width="0.08">148</text>
<text x="149.83" y="396.80" font-size="6.0" text-anchor="middle" fill="#333" stroke="#444" stroke-width="0.08">117</text>
<text x="197.16" y="396.80" font-size="6.0" text-anchor="middle" fill="#333" stroke="#444" stroke-width="0.08">88</text>
<text x="244.49" y="396.80" font-size="6.0" text-anchor="middle" fill="#333" stroke="#444" stroke-width="0.08">65</text>
<text x="87.80" y="405.10" font-size="6.6" text-anchor="end" textLength="87.2" lengthAdjust="spacingAndGlyphs" fill="#3c5a94">Antivirals + monoclonal antibodies</text>
<text x="102.50" y="405.20" font-size="6.0" text-anchor="middle" fill="#333" stroke="#444" stroke-width="0.08">54</text>
<text x="149.83" y="405.20" font-size="6.0" text-anchor="middle" fill="#333" stroke="#444" stroke-width="0.08">46</text>
<text x="197.16" y="405.20" font-size="6.0" text-anchor="middle" fill="#333" stroke="#444" stroke-width="0.08">37</text>
<text x="244.49" y="405.20" font-size="6.0" text-anchor="middle" fill="#333" stroke="#444" stroke-width="0.08">27</text>
<text x="87.80" y="413.60" font-size="6.6" text-anchor="end" textLength="23.5" lengthAdjust="spacingAndGlyphs" fill="#c43050">Antivirals</text>
<text x="102.50" y="413.70" font-size="6.0" text-anchor="middle" fill="#333" stroke="#444" stroke-width="0.08">114</text>
<text x="149.83" y="413.70" font-size="6.0" text-anchor="middle" fill="#333" stroke="#444" stroke-width="0.08">92</text>
<text x="197.16" y="413.70" font-size="6.0" text-anchor="middle" fill="#333" stroke="#444" stroke-width="0.08">67</text>
<text x="244.49" y="413.70" font-size="6.0" text-anchor="middle" fill="#333" stroke="#444" stroke-width="0.08">52</text>
<text x="87.80" y="422.30" font-size="6.6" text-anchor="end" textLength="54.5" lengthAdjust="spacingAndGlyphs" fill="#f2a24a">Monoclonal antibodies</text>
<text x="102.50" y="422.40" font-size="6.0" text-anchor="middle" fill="#333" stroke="#444" stroke-width="0.08">181</text>
<text x="149.83" y="422.40" font-size="6.0" text-anchor="middle" fill="#333" stroke="#444" stroke-width="0.08">132</text>
<text x="197.16" y="422.40" font-size="6.0" text-anchor="middle" fill="#333" stroke="#444" stroke-width="0.08">91</text>
<text x="244.49" y="422.40" font-size="6.0" text-anchor="middle" fill="#333" stroke="#444" stroke-width="0.08">68</text>
<text x="87.80" y="430.90" font-size="6.6" text-anchor="end" textLength="16.5" lengthAdjust="spacingAndGlyphs" fill="#4e3470">Plasma</text>
<text x="102.50" y="431.00" font-size="6.0" text-anchor="middle" fill="#333" stroke="#444" stroke-width="0.08">12</text>
<text x="149.83" y="431.00" font-size="6.0" text-anchor="middle" fill="#333" stroke="#444" stroke-width="0.08">12</text>
<text x="197.16" y="431.00" font-size="6.0" text-anchor="middle" fill="#333" stroke="#444" stroke-width="0.08">8</text>
<text x="244.49" y="431.00" font-size="6.0" text-anchor="middle" fill="#333" stroke="#444" stroke-width="0.08">7</text>
<text x="320.70" y="241.50" font-size="12.3" font-weight="bold" fill="#000">D</text>
<text x="409.60" y="227.80" font-size="8.6" textLength="60.0" lengthAdjust="spacingAndGlyphs" fill="#333">Critical patients</text>
<line x1="409.60" y1="228.50" x2="469.60" y2="228.50" stroke="#444" stroke-width="0.5"/>
<text transform="translate(338.70,292.70) rotate(-90)" x="0" y="0" font-size="8.0" text-anchor="middle" textLength="64.5" lengthAdjust="spacingAndGlyphs" fill="#444">Survival probability (%)</text>
<line x1="358.80" y1="240.00" x2="362.00" y2="240.00" stroke="#231f20" stroke-width="0.9"/>
<text x="355.20" y="242.50" font-size="6.8" text-anchor="end" fill="#444">100</text>
<line x1="358.80" y1="261.62" x2="362.00" y2="261.62" stroke="#231f20" stroke-width="0.9"/>
<text x="355.20" y="264.12" font-size="6.8" text-anchor="end" fill="#444">80</text>
<line x1="358.80" y1="283.24" x2="362.00" y2="283.24" stroke="#231f20" stroke-width="0.9"/>
<text x="355.20" y="285.74" font-size="6.8" text-anchor="end" fill="#444">60</text>
<line x1="358.80" y1="304.86" x2="362.00" y2="304.86" stroke="#231f20" stroke-width="0.9"/>
<text x="355.20" y="307.36" font-size="6.8" text-anchor="end" fill="#444">40</text>
<line x1="358.80" y1="326.48" x2="362.00" y2="326.48" stroke="#231f20" stroke-width="0.9"/>
<text x="355.20" y="328.98" font-size="6.8" text-anchor="end" fill="#444">20</text>
<line x1="358.80" y1="348.10" x2="362.00" y2="348.10" stroke="#231f20" stroke-width="0.9"/>
<text x="355.20" y="350.60" font-size="6.8" text-anchor="end" fill="#444">0</text>
<line x1="370.00" y1="353.10" x2="370.00" y2="356.20" stroke="#231f20" stroke-width="0.9"/>
<text x="370.00" y="365.40" font-size="6.8" text-anchor="middle" fill="#444">0</text>
<line x1="417.33" y1="353.10" x2="417.33" y2="356.20" stroke="#231f20" stroke-width="0.9"/>
<text x="417.33" y="365.40" font-size="6.8" text-anchor="middle" fill="#444">10</text>
<line x1="464.66" y1="353.10" x2="464.66" y2="356.20" stroke="#231f20" stroke-width="0.9"/>
<text x="464.66" y="365.40" font-size="6.8" text-anchor="middle" fill="#444">20</text>
<line x1="511.99" y1="353.10" x2="511.99" y2="356.20" stroke="#231f20" stroke-width="0.9"/>
<text x="511.99" y="365.40" font-size="6.8" text-anchor="middle" fill="#444">30</text>
<text x="440.75" y="374.50" font-size="7.8" text-anchor="middle" textLength="83.7" lengthAdjust="spacingAndGlyphs" fill="#444">Days from COVID-19 diagnosis</text>
<path d="M368.50,240.50 L378.50,240.50 L378.50,242.50 L387.50,242.50 L387.50,246.50 L397.50,246.50 L397.50,251.50 L402.50,251.50 L402.50,253.50 L407.50,253.50 L407.50,255.50 L411.50,255.50 L411.50,257.50 L421.50,257.50 L421.50,260.50 L426.50,260.50 L426.50,268.50 L439.50,268.50 L439.50,270.50 L450.50,270.50 L450.50,277.50 L460.50,277.50 L460.50,282.50 L465.50,282.50 L465.50,287.50 L470.50,287.50 L470.50,289.50 L479.50,289.50 L479.50,294.50 L494.50,294.50 L494.50,296.50 L508.50,296.50 L508.50,301.50 L513.50,301.50" fill="none" stroke="#4ba656" stroke-width="1.15" stroke-linejoin="miter"/>
<circle cx="383.00" cy="242.50" r="1.05" fill="#fff" fill-opacity="0.55" stroke="#4ba656" stroke-width="0.55"/>
<circle cx="416.00" cy="257.50" r="1.05" fill="#fff" fill-opacity="0.55" stroke="#4ba656" stroke-width="0.55"/>
<circle cx="425.00" cy="260.50" r="1.05" fill="#fff" fill-opacity="0.55" stroke="#4ba656" stroke-width="0.55"/>
<circle cx="433.00" cy="268.50" r="1.05" fill="#fff" fill-opacity="0.55" stroke="#4ba656" stroke-width="0.55"/>
<circle cx="476.00" cy="289.50" r="1.05" fill="#fff" fill-opacity="0.55" stroke="#4ba656" stroke-width="0.55"/>
<circle cx="486.00" cy="294.50" r="1.05" fill="#fff" fill-opacity="0.55" stroke="#4ba656" stroke-width="0.55"/>
<circle cx="500.00" cy="296.50" r="1.05" fill="#fff" fill-opacity="0.55" stroke="#4ba656" stroke-width="0.55"/>
<circle cx="511.00" cy="301.50" r="1.05" fill="#fff" fill-opacity="0.55" stroke="#4ba656" stroke-width="0.55"/>
<circle cx="513.50" cy="301.50" r="1.05" fill="#fff" fill-opacity="0.55" stroke="#4ba656" stroke-width="0.55"/>
<path d="M368.50,240.50 L387.50,240.50 L387.50,244.50 L392.50,244.50 L392.50,246.50 L397.50,246.50 L397.50,247.50 L421.50,247.50 L421.50,250.50 L425.50,250.50 L425.50,251.50 L430.50,251.50 L430.50,255.50 L432.50,255.50 L432.50,257.50 L440.50,257.50 L440.50,260.50 L450.50,260.50 L450.50,265.50 L469.50,265.50 L469.50,268.50 L475.50,268.50 L475.50,281.50 L494.50,281.50 L494.50,290.50 L513.50,290.50 L513.50,293.50" fill="none" stroke="#c23d58" stroke-width="1.15" stroke-linejoin="miter"/>
<circle cx="415.00" cy="247.50" r="1.05" fill="#fff" fill-opacity="0.55" stroke="#c23d58" stroke-width="0.55"/>
<circle cx="423.00" cy="250.50" r="1.05" fill="#fff" fill-opacity="0.55" stroke="#c23d58" stroke-width="0.55"/>
<circle cx="455.00" cy="265.50" r="1.05" fill="#fff" fill-opacity="0.55" stroke="#c23d58" stroke-width="0.55"/>
<circle cx="484.00" cy="281.50" r="1.05" fill="#fff" fill-opacity="0.55" stroke="#c23d58" stroke-width="0.55"/>
<circle cx="505.00" cy="290.50" r="1.05" fill="#fff" fill-opacity="0.55" stroke="#c23d58" stroke-width="0.55"/>
<circle cx="513.50" cy="290.50" r="1.05" fill="#fff" fill-opacity="0.55" stroke="#c23d58" stroke-width="0.55"/>
<path d="M368.50,240.50 L431.50,240.50 L431.50,245.50 L513.50,245.50" fill="none" stroke="#3f5f88" stroke-width="1.15" stroke-linejoin="miter"/>
<circle cx="465.00" cy="245.50" r="1.05" fill="#fff" fill-opacity="0.55" stroke="#3f5f88" stroke-width="0.55"/>
<circle cx="469.00" cy="245.50" r="1.05" fill="#fff" fill-opacity="0.55" stroke="#3f5f88" stroke-width="0.55"/>
<circle cx="509.00" cy="245.50" r="1.05" fill="#fff" fill-opacity="0.55" stroke="#3f5f88" stroke-width="0.55"/>
<circle cx="513.50" cy="245.50" r="1.05" fill="#fff" fill-opacity="0.55" stroke="#3f5f88" stroke-width="0.55"/>
<path d="M368.50,240.50 L407.50,240.50 L407.50,245.50 L469.50,245.50 L469.50,249.50 L484.50,249.50 L484.50,255.50 L513.50,255.50" fill="none" stroke="#f2a444" stroke-width="1.15" stroke-linejoin="miter"/>
<circle cx="450.00" cy="245.50" r="1.05" fill="#fff" fill-opacity="0.55" stroke="#f2a444" stroke-width="0.55"/>
<circle cx="455.00" cy="245.50" r="1.05" fill="#fff" fill-opacity="0.55" stroke="#f2a444" stroke-width="0.55"/>
<circle cx="474.00" cy="249.50" r="1.05" fill="#fff" fill-opacity="0.55" stroke="#f2a444" stroke-width="0.55"/>
<circle cx="478.00" cy="249.50" r="1.05" fill="#fff" fill-opacity="0.55" stroke="#f2a444" stroke-width="0.55"/>
<circle cx="482.00" cy="249.50" r="1.05" fill="#fff" fill-opacity="0.55" stroke="#f2a444" stroke-width="0.55"/>
<circle cx="490.00" cy="255.50" r="1.05" fill="#fff" fill-opacity="0.55" stroke="#f2a444" stroke-width="0.55"/>
<circle cx="500.00" cy="255.50" r="1.05" fill="#fff" fill-opacity="0.55" stroke="#f2a444" stroke-width="0.55"/>
<circle cx="513.50" cy="255.50" r="1.05" fill="#fff" fill-opacity="0.55" stroke="#f2a444" stroke-width="0.55"/>
<path d="M368.50,240.50 L387.50,240.50 L387.50,258.50 L397.50,258.50 L397.50,275.50 L402.50,275.50 L402.50,292.50 L513.50,292.50" fill="none" stroke="#5e4a78" stroke-width="1.15" stroke-linejoin="miter"/>
<circle cx="513.50" cy="292.50" r="1.05" fill="#fff" fill-opacity="0.55" stroke="#5e4a78" stroke-width="0.55"/>
<rect x="367.50" y="300.00" width="22.68" height="6.40" fill="#fff" stroke="#888" stroke-width="0.5"/>
<rect x="390.18" y="300.00" width="22.73" height="6.40" fill="#3aaa35"/>
<rect x="412.86" y="300.00" width="22.73" height="6.40" fill="#1d4e89"/>
<rect x="435.54" y="300.00" width="22.73" height="6.40" fill="#c8102e"/>
<rect x="458.22" y="300.00" width="22.73" height="6.40" fill="#f59b15"/>
<rect x="367.50" y="306.70" width="22.68" height="6.50" fill="#1d4e89"/>
<rect x="367.50" y="313.15" width="22.68" height="6.50" fill="#c8102e"/>
<rect x="367.50" y="319.60" width="22.68" height="6.50" fill="#f59b15"/>
<rect x="367.50" y="326.05" width="22.68" height="6.50" fill="#552a78"/>
<text x="392.28" y="312.90" font-size="6.0" textLength="15.8" lengthAdjust="spacingAndGlyphs" fill="#2a2a2a" stroke="#333" stroke-width="0.1">&lt;0.001</text>
<text x="394.18" y="319.35" font-size="6.0" textLength="13.8" lengthAdjust="spacingAndGlyphs" fill="#2a2a2a" stroke="#333" stroke-width="0.1">0.279</text>
<text x="416.86" y="319.35" font-size="6.0" textLength="13.8" lengthAdjust="spacingAndGlyphs" fill="#2a2a2a" stroke="#333" stroke-width="0.1">0.002</text>
<text x="392.28" y="325.80" font-size="6.0" textLength="15.8" lengthAdjust="spacingAndGlyphs" fill="#2a2a2a" stroke="#333" stroke-width="0.1">&lt;0.001</text>
<text x="416.86" y="325.80" font-size="6.0" textLength="13.8" lengthAdjust="spacingAndGlyphs" fill="#2a2a2a" stroke="#333" stroke-width="0.1">0.394</text>
<text x="439.54" y="325.80" font-size="6.0" textLength="13.8" lengthAdjust="spacingAndGlyphs" fill="#2a2a2a" stroke="#333" stroke-width="0.1">0.008</text>
<text x="394.18" y="332.25" font-size="6.0" textLength="13.8" lengthAdjust="spacingAndGlyphs" fill="#2a2a2a" stroke="#333" stroke-width="0.1">0.954</text>
<text x="416.86" y="332.25" font-size="6.0" textLength="13.8" lengthAdjust="spacingAndGlyphs" fill="#2a2a2a" stroke="#333" stroke-width="0.1">0.003</text>
<text x="439.54" y="332.25" font-size="6.0" textLength="13.8" lengthAdjust="spacingAndGlyphs" fill="#2a2a2a" stroke="#333" stroke-width="0.1">0.643</text>
<text x="462.22" y="332.25" font-size="6.0" textLength="13.8" lengthAdjust="spacingAndGlyphs" fill="#2a2a2a" stroke="#333" stroke-width="0.1">0.013</text>
<text x="365.00" y="347.40" font-size="6.2" fill="#2a2a2a" stroke="#333" stroke-width="0.08" textLength="56.2" lengthAdjust="spacingAndGlyphs">Log-rank test <tspan font-style="italic">P</tspan> &lt; .001</text>
<line x1="362.00" y1="232.40" x2="362.00" y2="353.70" stroke="#231f20" stroke-width="1.3"/>
<line x1="361.40" y1="353.10" x2="520.00" y2="353.10" stroke="#231f20" stroke-width="1.3"/>
<text x="289.00" y="386.50" font-size="6.8" textLength="66" lengthAdjust="spacingAndGlyphs" fill="#333">Number of patients at risk</text>
<text x="354.80" y="396.70" font-size="6.6" text-anchor="end" textLength="38.3" lengthAdjust="spacingAndGlyphs" fill="#5cb85c">Corticosteroids</text>
<text x="370.00" y="396.80" font-size="6.0" text-anchor="middle" fill="#333" stroke="#444" stroke-width="0.08">57</text>
<text x="417.33" y="396.80" font-size="6.0" text-anchor="middle" fill="#333" stroke="#444" stroke-width="0.08">47</text>
<text x="464.66" y="396.80" font-size="6.0" text-anchor="middle" fill="#333" stroke="#444" stroke-width="0.08">25</text>
<text x="511.99" y="396.80" font-size="6.0" text-anchor="middle" fill="#333" stroke="#444" stroke-width="0.08">15</text>
<text x="354.80" y="405.10" font-size="6.6" text-anchor="end" textLength="87.2" lengthAdjust="spacingAndGlyphs" fill="#3c5a94">Antivirals + monoclonal antibodies</text>
<text x="370.00" y="405.20" font-size="6.0" text-anchor="middle" fill="#333" stroke="#444" stroke-width="0.08">20</text>
<text x="417.33" y="405.20" font-size="6.0" text-anchor="middle" fill="#333" stroke="#444" stroke-width="0.08">20</text>
<text x="464.66" y="405.20" font-size="6.0" text-anchor="middle" fill="#333" stroke="#444" stroke-width="0.08">19</text>
<text x="511.99" y="405.20" font-size="6.0" text-anchor="middle" fill="#333" stroke="#444" stroke-width="0.08">16</text>
<text x="354.80" y="413.60" font-size="6.6" text-anchor="end" textLength="23.5" lengthAdjust="spacingAndGlyphs" fill="#c43050">Antivirals</text>
<text x="370.00" y="413.70" font-size="6.0" text-anchor="middle" fill="#333" stroke="#444" stroke-width="0.08">32</text>
<text x="417.33" y="413.70" font-size="6.0" text-anchor="middle" fill="#333" stroke="#444" stroke-width="0.08">29</text>
<text x="464.66" y="413.70" font-size="6.0" text-anchor="middle" fill="#333" stroke="#444" stroke-width="0.08">21</text>
<text x="511.99" y="413.70" font-size="6.0" text-anchor="middle" fill="#333" stroke="#444" stroke-width="0.08">12</text>
<text x="354.80" y="422.30" font-size="6.6" text-anchor="end" textLength="54.5" lengthAdjust="spacingAndGlyphs" fill="#f2a24a">Monoclonal antibodies</text>
<text x="370.00" y="422.40" font-size="6.0" text-anchor="middle" fill="#333" stroke="#444" stroke-width="0.08">26</text>
<text x="417.33" y="422.40" font-size="6.0" text-anchor="middle" fill="#333" stroke="#444" stroke-width="0.08">24</text>
<text x="464.66" y="422.40" font-size="6.0" text-anchor="middle" fill="#333" stroke="#444" stroke-width="0.08">22</text>
<text x="511.99" y="422.40" font-size="6.0" text-anchor="middle" fill="#333" stroke="#444" stroke-width="0.08">13</text>
<text x="354.80" y="430.90" font-size="6.6" text-anchor="end" textLength="16.5" lengthAdjust="spacingAndGlyphs" fill="#4e3470">Plasma</text>
<text x="370.00" y="431.00" font-size="6.0" text-anchor="middle" fill="#333" stroke="#444" stroke-width="0.08">6</text>
<text x="417.33" y="431.00" font-size="6.0" text-anchor="middle" fill="#333" stroke="#444" stroke-width="0.08">3</text>
<text x="464.66" y="431.00" font-size="6.0" text-anchor="middle" fill="#333" stroke="#444" stroke-width="0.08">3</text>
<text x="511.99" y="431.00" font-size="6.0" text-anchor="middle" fill="#333" stroke="#444" stroke-width="0.08">3</text>
</svg>
</body></html>
